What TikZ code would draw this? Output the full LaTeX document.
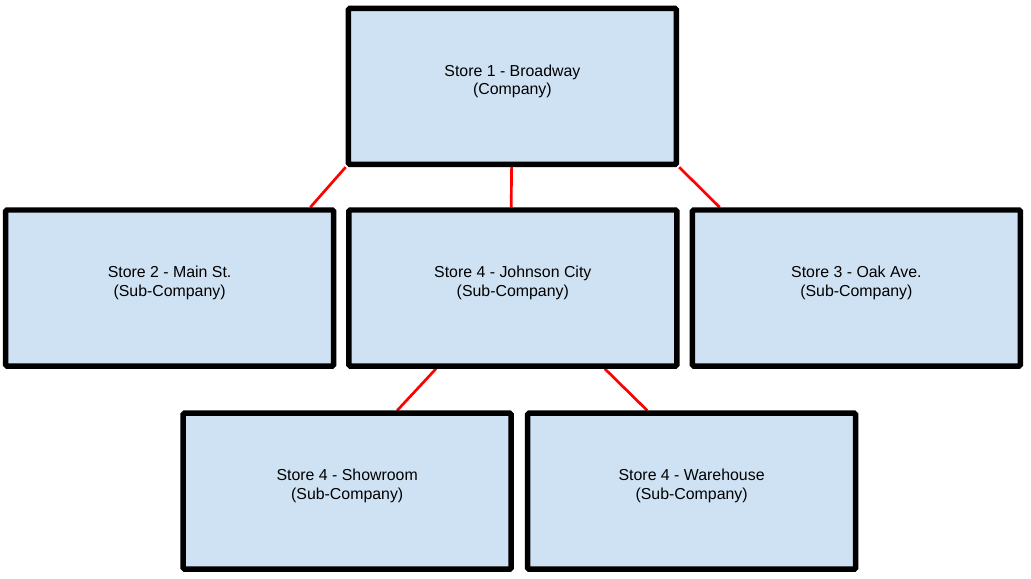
\documentclass[tikz,border=0pt]{standalone}
\usepackage{fontspec}
\setmainfont{Liberation Sans}
\usepackage{tikz}
\usetikzlibrary{positioning, calc, backgrounds}
\definecolor{storefill}{HTML}{CFE2F3}
\definecolor{linkred}{HTML}{FF0000}

\begin{document}
\begin{tikzpicture}[
  storebox/.style={draw=black, fill=storefill, line width=3.9pt, rounded corners=1pt,
    minimum width=8.2cm, minimum height=3.9cm, align=center, text depth=0.34cm,
    font=\fontsize{11.3}{13.1}\selectfont},
  storelink/.style={linkred, line width=1.9pt}
]
  % Page frame
  \useasboundingbox (0,0) rectangle (25.775cm, -14.45cm);

  % Top store
  \node[storebox] (broadway) at (12.81cm, -2.16cm) {Store 1 - Broadway\\(Company)};

  % Second row
  \node[storebox] (mainst) at (4.24cm, -7.2cm) {Store 2 - Main St.\\(Sub-Company)};
  \node[storebox] (johnson) at (12.82cm, -7.2cm) {Store 4 - Johnson City\\(Sub-Company)};
  \node[storebox] (oakave) at (21.41cm, -7.2cm) {Store 3 - Oak Ave.\\(Sub-Company)};

  % Third row
  \node[storebox] (showroom) at (8.68cm, -12.28cm) {Store 4 - Showroom\\(Sub-Company)};
  \node[storebox] (warehouse) at (17.29cm, -12.28cm) {Store 4 - Warehouse\\(Sub-Company)};

  % Links
  \begin{scope}[on background layer]
    \draw[storelink] (broadway.south west) -- ([xshift=-0.65cm]mainst.north east);
    \draw[storelink] ([xshift=-0.02cm]broadway.south) -- ([xshift=-0.04cm]johnson.north);
    \draw[storelink] (broadway.south east) -- ([xshift=0.75cm]oakave.north west);
    \draw[storelink] ([xshift=-1.92cm]johnson.south) -- ([xshift=1.25cm]showroom.north);
    \draw[storelink] ([xshift=2.3cm]johnson.south) -- ([xshift=-1.11cm]warehouse.north);
  \end{scope}
\end{tikzpicture}
\end{document}
